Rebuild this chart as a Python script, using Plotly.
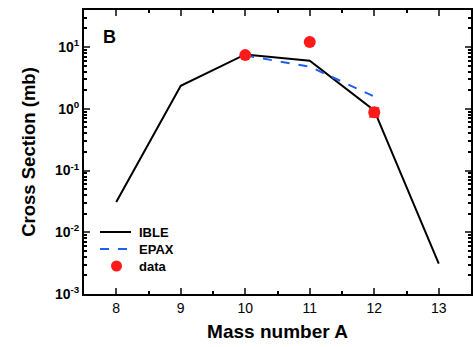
import plotly.graph_objects as go

mass_ible = [8, 9, 10, 11, 12, 13]
sigma_ible = [0.031, 2.35, 7.6, 6.0, 0.94, 0.0031]
mass_epax = [10, 11, 12]
sigma_epax = [7.3, 4.8, 1.58]
mass_data = [10, 11, 12]
sigma_data = [7.4, 12.1, 0.88]
err_data = [0.4, 0.6, 0.14]
ytick_vals = [1e-3, 1e-2, 1e-1, 1, 10]
ytick_text = ["10<sup>-3</sup>", "10<sup>-2</sup>", "10<sup>-1</sup>", "10<sup>0</sup>", "10<sup>1</sup>"]
xtick_vals = [8, 9, 10, 11, 12, 13]
legend_names = ["IBLE", "EPAX", "data"]

font = "Liberation Sans, Arial, sans-serif"
W, H = 473, 347
L, R, T, B = 84, 2, 10, 53
pw, ph = W - L - R, H - T - B


def px(x):
    return (x - L) / pw


def py(y):
    return (H - B - y) / ph


fig = go.Figure()
fig.add_trace(go.Scatter(x=mass_ible, y=sigma_ible, mode="lines", name=legend_names[0],
                         line=dict(color="black", width=2), showlegend=False))
fig.add_trace(go.Scatter(x=mass_epax, y=sigma_epax, mode="lines", name=legend_names[1],
                         line=dict(color="#1f5ff0", width=2, dash="dash"), showlegend=False))
fig.add_trace(go.Scatter(x=mass_data, y=sigma_data, mode="markers", name=legend_names[2],
                         marker=dict(color="#ff1a1a", size=12), showlegend=False,
                         error_y=dict(type="data", array=err_data, color="#ff1a1a", thickness=2, width=5)))

minor_y = []
for e in range(-3, 2):
    for m in range(2, 10):
        v = m * 10 ** e
        if v < 40:
            minor_y.append(v)

# manual legend
shapes = [
    dict(type="line", xref="paper", yref="paper", x0=px(100), x1=px(131), y0=py(232), y1=py(232),
         line=dict(color="black", width=2)),
    dict(type="line", xref="paper", yref="paper", x0=px(100), x1=px(131), y0=py(249), y1=py(249),
         line=dict(color="#1f5ff0", width=2, dash="dash")),
    dict(type="circle", xref="paper", yref="paper", x0=px(111), x1=px(122), y0=py(260.5), y1=py(271.5),
         fillcolor="#ff1a1a", line=dict(color="#ff1a1a", width=0)),
]
annotations = [dict(text="<b>B</b>", x=px(101), y=py(37), xref="paper", yref="paper",
                    showarrow=False, xanchor="left", yanchor="middle", font=dict(size=18, family=font))]
for name, yy in zip(legend_names, [232, 249, 266]):
    annotations.append(dict(text="<b>%s</b>" % name, x=px(137), y=py(yy), xref="paper", yref="paper",
                            showarrow=False, xanchor="left", yanchor="middle", font=dict(size=13, family=font)))

fig.update_layout(
    width=W, height=H,
    margin=dict(l=L, r=R, t=T, b=B),
    paper_bgcolor="white", plot_bgcolor="white",
    font=dict(family=font, color="black"),
    showlegend=False,
    shapes=shapes,
    annotations=annotations,
    xaxis=dict(range=[7.5, 13.5], tickvals=xtick_vals, ticks="inside", ticklen=6, tickwidth=2,
               showline=True, linewidth=2, linecolor="black", mirror="allticks", showgrid=False,
               zeroline=False, tickfont=dict(size=14, family=font), automargin=False,
               tickprefix="<b>", ticksuffix="</b>",
               minor=dict(dtick=0.5, ticks="inside", ticklen=3, tickwidth=1.5, tickcolor="black"),
               title=dict(text="<b>Mass number A</b>", font=dict(size=19, family=font), standoff=10)),
    yaxis=dict(type="log", range=[-3, 1.6], tickvals=ytick_vals, ticktext=["<b>%s</b>" % t for t in ytick_text],
               ticks="inside", ticklen=6, tickwidth=2, automargin=False,
               showline=True, linewidth=2, linecolor="black", mirror="allticks", showgrid=False,
               zeroline=False, tickfont=dict(size=14, family=font),
               minor=dict(tickvals=minor_y, ticks="inside", ticklen=3, tickwidth=1.5, tickcolor="black"),
               title=dict(text="<b>Cross Section (mb)</b>", font=dict(size=18.5, family=font), standoff=14)),
)

fig.write_html("out.html", config={"displayModeBar": False},
               post_script="document.body.style.margin='0';document.body.style.overflow='hidden';")
